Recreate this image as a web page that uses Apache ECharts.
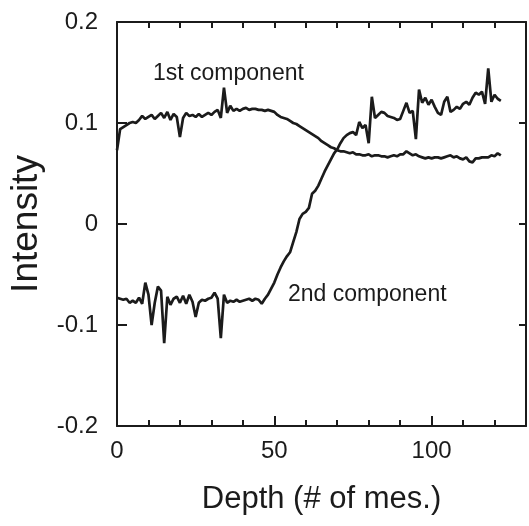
<!DOCTYPE html>
<html>
<head>
<meta charset="utf-8">
<script src="https://cdn.jsdelivr.net/npm/echarts@6/dist/echarts.min.js"></script>
<style>html,body{margin:0;padding:0;background:#fff}#c{width:529px;height:526px}</style>
</head>
<body>
<div id="c"></div>
<script>
const depth = Array.from({length: 123}, (_, i) => i); // measurement index 0..122
const firstComponent = [
0.073,0.094,0.096,0.098,0.100,0.101,0.100,0.103,0.107,0.104,
0.106,0.108,0.104,0.107,0.110,0.105,0.111,0.103,0.109,0.106,
0.086,0.105,0.110,0.107,0.108,0.106,0.109,0.106,0.108,0.110,
0.108,0.111,0.113,0.105,0.135,0.110,0.117,0.112,0.114,0.112,
0.114,0.115,0.113,0.114,0.114,0.113,0.113,0.112,0.113,0.112,
0.111,0.108,0.106,0.105,0.104,0.102,0.100,0.099,0.097,0.095,
0.093,0.091,0.089,0.087,0.085,0.082,0.080,0.078,0.076,0.075,
0.073,0.072,0.072,0.071,0.070,0.071,0.069,0.069,0.068,0.068,
0.069,0.067,0.068,0.068,0.067,0.067,0.066,0.067,0.068,0.067,
0.069,0.069,0.072,0.070,0.068,0.069,0.067,0.066,0.065,0.066,
0.065,0.066,0.066,0.065,0.066,0.067,0.068,0.066,0.067,0.065,
0.064,0.066,0.062,0.061,0.065,0.065,0.066,0.066,0.066,0.068,
0.067,0.070,0.068];
const secondComponent = [
-0.073,-0.074,-0.075,-0.074,-0.078,-0.076,-0.078,-0.073,-0.079,-0.058,
-0.070,-0.100,-0.078,-0.062,-0.066,-0.118,-0.072,-0.080,-0.074,-0.072,
-0.078,-0.071,-0.079,-0.070,-0.077,-0.092,-0.078,-0.075,-0.076,-0.074,
-0.073,-0.068,-0.074,-0.113,-0.070,-0.078,-0.076,-0.077,-0.075,-0.077,
-0.076,-0.075,-0.074,-0.076,-0.074,-0.075,-0.079,-0.074,-0.070,-0.064,
-0.058,-0.050,-0.043,-0.037,-0.032,-0.028,-0.018,-0.008,0.005,0.010,
0.012,0.016,0.030,0.033,0.038,0.045,0.052,0.058,0.064,0.070,
0.074,0.080,0.085,0.088,0.090,0.091,0.088,0.101,0.095,0.098,
0.080,0.126,0.105,0.108,0.111,0.110,0.107,0.106,0.105,0.103,
0.104,0.112,0.120,0.110,0.112,0.084,0.133,0.120,0.125,0.118,
0.123,0.116,0.110,0.108,0.121,0.126,0.111,0.113,0.116,0.114,
0.119,0.121,0.118,0.125,0.130,0.128,0.131,0.119,0.154,0.121,
0.128,0.124,0.122];
const xLabels = [0, 50, 100];
const yTicks = [-0.2, -0.1, 0, 0.1, 0.2];
const labels = {first: '1st component', second: '2nd component', x: 'Depth (# of mes.)', y: 'Intensity'};

const ink = '#1b1b1b';
const font = '"Liberation Sans", Arial, sans-serif';
const chart = echarts.init(document.getElementById('c'), null, {renderer: 'canvas'});
const fmtY = v => {
  const r = Math.round(v * 10) / 10;
  return yTicks.indexOf(r) >= 0 ? (r === 0 ? '0' : r.toFixed(1)) : '';
};
const tickStyle = {color: ink, width: 2};
chart.setOption({
  animation: false,
  backgroundColor: '#fff',
  grid: {left: 117, right: 2, top: 22, bottom: 100, containLabel: false},
  xAxis: [
    {
      type: 'value', min: 0, max: 130, interval: 10, position: 'bottom', splitLine: {show: false},
      axisLine: {show: true, onZero: false, lineStyle: {color: ink, width: 2}},
      name: labels.x, nameLocation: 'middle', nameGap: 58,
      nameTextStyle: {fontFamily: font, fontSize: 31, color: ink},
      axisTick: {show: true, inside: true, length: 6, lineStyle: tickStyle},
      axisLabel: {margin: 13, fontFamily: font, fontSize: 24, color: ink,
        formatter: v => xLabels.indexOf(v) >= 0 ? String(v) : ''}
    },
    {
      type: 'value', min: 0, max: 130, interval: 10, position: 'top', splitLine: {show: false},
      axisLine: {show: true, onZero: false, lineStyle: {color: ink, width: 2}},
      axisTick: {show: true, inside: true, length: 6, lineStyle: tickStyle},
      axisLabel: {show: false}
    },
    {
      type: 'value', min: 0, max: 130, interval: 50, position: 'bottom', splitLine: {show: false},
      axisLine: {show: false, onZero: false},
      axisTick: {show: true, inside: true, length: 10, lineStyle: tickStyle},
      axisLabel: {show: false}
    }
  ],
  yAxis: [
    {
      type: 'value', min: -0.2, max: 0.2, interval: 0.1, position: 'left',
      name: labels.y, nameLocation: 'middle', nameGap: 70,
      nameTextStyle: {fontFamily: font, fontSize: 37, color: ink},
      splitLine: {show: false},
      axisLine: {show: true, onZero: false, lineStyle: {color: ink, width: 2}},
      axisTick: {show: true, inside: true, length: 10, lineStyle: tickStyle},
      axisLabel: {margin: 19, fontFamily: font, fontSize: 24, color: ink, formatter: fmtY}
    },
    {
      type: 'value', min: -0.2, max: 0.2, interval: 0.1, position: 'right',
      splitLine: {show: false},
      axisLine: {show: true, onZero: false, lineStyle: {color: ink, width: 2}},
      axisTick: {show: true, inside: true, length: 7, lineStyle: tickStyle},
      axisLabel: {show: false}
    }
  ],
  series: [
    {
      name: labels.first, type: 'line', xAxisIndex: 0, yAxisIndex: 0,
      data: depth.map((d, i) => [d, firstComponent[i]]),
      showSymbol: false, smooth: false,
      lineStyle: {color: ink, width: 2.7}
    },
    {
      name: labels.second, type: 'line', xAxisIndex: 0, yAxisIndex: 0,
      data: depth.map((d, i) => [d, secondComponent[i]]),
      showSymbol: false, smooth: false,
      lineStyle: {color: ink, width: 2.7}
    }
  ],
  graphic: [
    {type: 'text', left: 153, top: 62,
      style: {text: labels.first, fontFamily: font, fontSize: 23, fill: ink}},
    {type: 'text', left: 288, top: 283,
      style: {text: labels.second, fontFamily: font, fontSize: 23, fill: ink}}
  ]
});
</script>
</body>
</html>
